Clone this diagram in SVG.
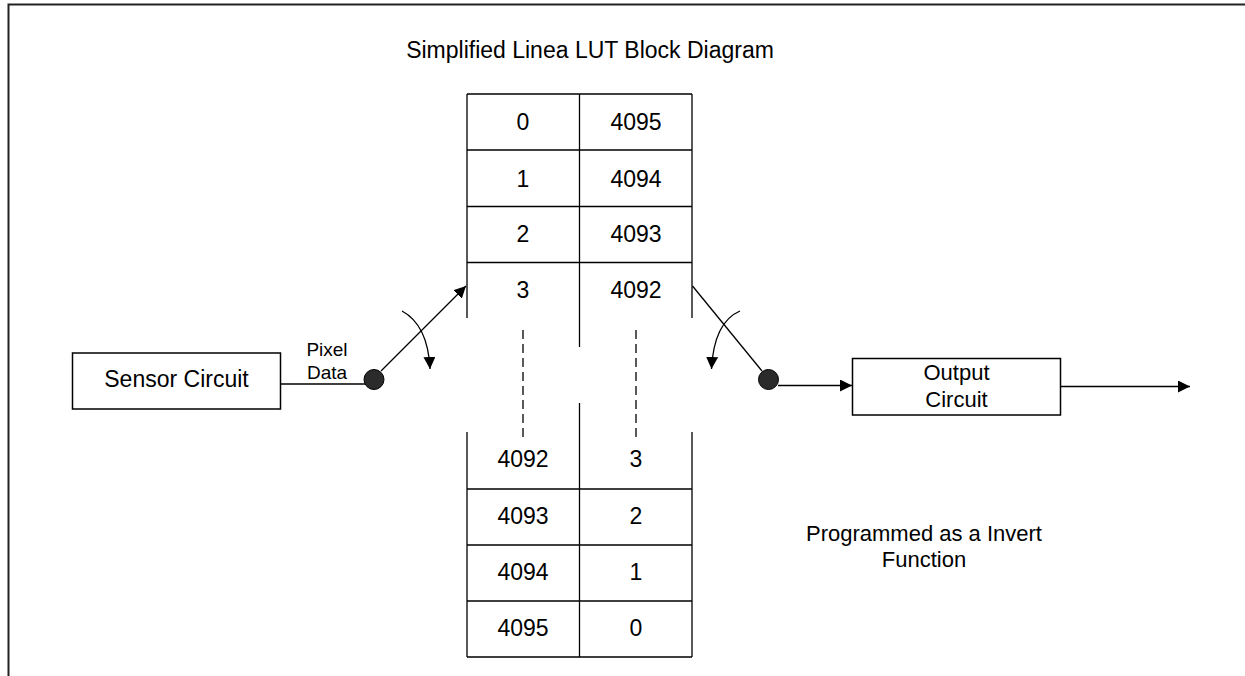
<svg xmlns="http://www.w3.org/2000/svg" width="1245" height="676" viewBox="0 0 1245 676">
<style>
text{font-family:"Liberation Sans",Arial,sans-serif;fill:#000;text-anchor:middle}
.t23{font-size:23px}
.t22{font-size:22px}
.t19{font-size:19px}
.ln{stroke:#000;stroke-width:1.3;fill:none}
.box{stroke:#000;stroke-width:1.5;fill:#fff}
.dash{stroke:#000;stroke-width:1.3;stroke-dasharray:9 5;fill:none}
.dot{fill:#2b2b2b;stroke:#000;stroke-width:1}
</style>
<defs>
<marker id="ah" viewBox="0 0 10 10" refX="10" refY="5" markerWidth="12" markerHeight="12" markerUnits="userSpaceOnUse" orient="auto">
<path d="M0,0 L10,5 L0,10 z" fill="#000"/>
</marker>
</defs>
<rect width="1245" height="676" fill="#fff"/>
<g id="border">
<path d="M8.5,676 V4.5 H1245" stroke="#222" stroke-width="2" fill="none"/>
</g>
<text id="title" class="t23" x="590" y="58">Simplified Linea LUT Block Diagram</text>
<g id="lut-top">
<path class="ln" d="M467,94 H692 M467,150 H692 M467,206.5 H692 M467,262.5 H692 M467,94 V318 M579.5,94 V347 M692,94 V318"/>
<text class="t23" x="523" y="130">0</text>
<text class="t23" x="636" y="130">4095</text>
<text class="t23" x="523" y="186.5">1</text>
<text class="t23" x="636" y="186.5">4094</text>
<text class="t23" x="523" y="242">2</text>
<text class="t23" x="636" y="242">4093</text>
<text class="t23" x="523" y="298">3</text>
<text class="t23" x="636" y="298">4092</text>
</g>
<g id="lut-dashes">
<path class="dash" d="M523,330 V440 M636,330 V440"/>
</g>
<g id="lut-bottom">
<path class="ln" d="M467,489 H692 M467,545 H692 M467,601 H692 M467,657 H692 M467,432 V657 M579.5,403 V657 M692,432 V657"/>
<text class="t23" x="523" y="467">4092</text>
<text class="t23" x="636" y="467">3</text>
<text class="t23" x="523" y="523.5">4093</text>
<text class="t23" x="636" y="523.5">2</text>
<text class="t23" x="523" y="580">4094</text>
<text class="t23" x="636" y="580">1</text>
<text class="t23" x="523" y="636">4095</text>
<text class="t23" x="636" y="636">0</text>
</g>
<g id="sensor">
<rect class="box" x="72.5" y="353" width="208" height="56"/>
<text class="t23" x="176.5" y="387">Sensor Circuit</text>
</g>
<g id="output">
<rect class="box" x="852.5" y="358.5" width="208" height="56.5"/>
<text class="t22" x="956.5" y="380">Output</text>
<text class="t22" x="956.5" y="406.5">Circuit</text>
</g>
<g id="connectors">
<path class="ln" d="M281,384 H368"/>
<path class="ln" d="M381,371 L466,286" marker-end="url(#ah)"/>
<path class="ln" d="M402,311 Q428,325 430,369" marker-end="url(#ah)"/>
<path class="ln" d="M692.5,286 L762,371"/>
<path class="ln" d="M740,311 Q714,322 711.5,369" marker-end="url(#ah)"/>
<path class="ln" d="M778,385.5 H852" marker-end="url(#ah)"/>
<path class="ln" d="M1061,386.5 H1190" marker-end="url(#ah)"/>
</g>
<g id="switch-in">
<circle class="dot" cx="374" cy="379.5" r="10"/>
</g>
<g id="switch-out">
<circle class="dot" cx="768.5" cy="379.5" r="10"/>
</g>
<text id="pixel-label" class="t19"><tspan x="327" y="356">Pixel</tspan><tspan x="327" y="379">Data</tspan></text>
<text id="note" class="t22"><tspan x="924" y="541">Programmed as a Invert</tspan><tspan x="924" y="567">Function</tspan></text>
</svg>
